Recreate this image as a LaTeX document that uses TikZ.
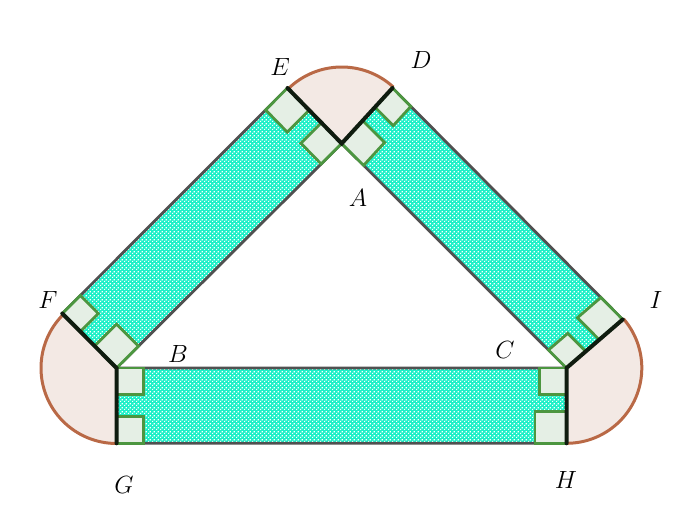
\documentclass[tikz,border=0pt]{standalone}
\usetikzlibrary{calc,patterns}
\pgfdeclarepatternformonly{gspeck}{\pgfqpoint{0pt}{0pt}}{\pgfqpoint{4pt}{4pt}}{\pgfqpoint{4pt}{4pt}}{%
  \pgfpathrectangle{\pgfqpoint{0pt}{0pt}}{\pgfqpoint{1.5pt}{1.5pt}}%
  \pgfpathrectangle{\pgfqpoint{2pt}{2pt}}{\pgfqpoint{1.5pt}{1.5pt}}%
  \pgfusepath{fill}}
\definecolor{sectfill}{RGB}{243,233,228}
\definecolor{arccol}{RGB}{185,105,70}
\definecolor{edgecol}{RGB}{80,80,80}
\definecolor{blackish}{RGB}{15,28,15}
\definecolor{rafill}{RGB}{229,239,229}
\definecolor{radraw}{RGB}{76,150,64}
\definecolor{cyanfill}{RGB}{30,240,200}
\tikzset{
  sect/.style={fill=sectfill},
  arcline/.style={draw=arccol,line width=3pt},
  rectfill/.style={fill=cyanfill,postaction={pattern=gspeck,pattern color=white}},
  edge/.style={draw=edgecol,line width=2.8pt,line join=round},
  heavy/.style={draw=blackish,line width=4pt,line cap=round},
  ramark/.style={fill=rafill,draw=radraw,line width=2.8pt,line join=miter},
  lab/.style={font=\fontsize{28}{32}\selectfont,inner sep=0pt}
}
\newcommand\rasq[4]{%
  \path ($(#1)!#4!(#2)$) coordinate (ra1) ($(#1)!#4!(#3)$) coordinate (ra2);
  \path[ramark] (#1) -- (ra1) -- ($(ra1)+(ra2)-(#1)$) -- (ra2) -- cycle;}
\begin{document}
\begin{tikzpicture}[x=1pt,y=-1pt]
\useasboundingbox (0,0) rectangle (692,526);
% points
\coordinate (A) at (341.7,143.5);
\coordinate (B) at (116.5,368);
\coordinate (C) at (566.5,368);
\coordinate (E) at (287.5,88);
\coordinate (D) at (392.5,88);
\coordinate (F) at (62.3,313.5);
\coordinate (G) at (116.5,443.3);
\coordinate (H) at (566.5,443.3);
\coordinate (I) at (622.7,319.5);
% sectors
\fill[sect] (A) -- ($(A)+(-47.5:76.5)$) arc[start angle=-47.5,end angle=-134.3,radius=76.5] -- cycle;
\fill[sect] (B) -- ($(B)+(-134.85:75.5)$) arc[start angle=-134.85,end angle=-270,radius=75.5] -- cycle;
\fill[sect] (C) -- ($(C)+(90:75.3)$) arc[start angle=90,end angle=-40.8,radius=75.3] -- cycle;
% rectangles
\path[rectfill] (A) -- (B) -- (F) -- (E) -- cycle;
\path[rectfill] (A) -- (C) -- (I) -- (D) -- cycle;
\path[rectfill] (B) -- (C) -- (H) -- (G) -- cycle;
\draw[edge] (E) -- (F) (A) -- (B) -- (C) -- (A) (D) -- (I) (G) -- (H);
% right angle marks
\rasq{E}{A}{F}{31pt}
\rasq{A}{E}{B}{29pt}
\rasq{F}{E}{B}{25.5pt}
\rasq{B}{A}{F}{31pt}
\rasq{A}{D}{C}{31pt}
\rasq{D}{A}{I}{26pt}
\rasq{I}{D}{C}{31pt}
\rasq{C}{I}{A}{25.5pt}
\rasq{B}{C}{G}{26.7pt}
\rasq{G}{H}{B}{26.7pt}
\rasq{C}{B}{H}{26.7pt}
\rasq{H}{G}{C}{31.5pt}
% arcs
\draw[arcline] ($(A)+(-47.5:76.5)$) arc[start angle=-47.5,end angle=-134.3,radius=76.5];
\draw[arcline] ($(B)+(-134.85:75.5)$) arc[start angle=-134.85,end angle=-270,radius=75.5];
\draw[arcline] ($(C)+(90:75.3)$) arc[start angle=90,end angle=-40.8,radius=75.3];
% heavy segments
\draw[heavy] (E) -- (A) -- (D);
\draw[heavy] (F) -- (B) -- (G);
\draw[heavy] (H) -- (C) -- (I);
% labels
\node[lab] (lA) at (358,198) {$A$};
\node[lab] (lB) at (178,354) {$B$};
\node[lab] (lC) at (505,350) {$C$};
\node[lab] (lD) at (421,60) {$D$};
\node[lab] (lE) at (280,67) {$E$};
\node[lab] (lF) at (48,300) {$F$};
\node[lab] (lG) at (124,485) {$G$};
\node[lab] (lH) at (566,480) {$H$};
\node[lab] (lI) at (656,300) {$I$};
\end{tikzpicture}
\end{document}
